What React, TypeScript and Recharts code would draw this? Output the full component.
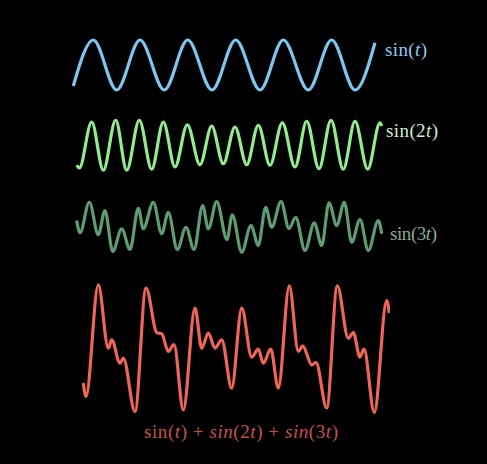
import { Line, LineChart, XAxis, YAxis } from 'recharts'

// t runs 0..32 across the plot width (peaks, troughs, wiggles)
const sinT_t = [0.33, 2.33, 4.67, 7.0, 9.43, 11.77, 14.2, 16.57, 19.0, 21.33, 23.83, 26.17, 28.5, 30.5]
const sinT_v = [-0.84, 1, -1, 1, -1, 1, -1, 1, -1, 1, -1, 1, -1, 0.89]

const sin2T_t = [0.67, 0.93, 2.17, 3.33, 4.57, 5.67, 6.93, 8.17, 9.33, 10.5, 11.73, 13.0, 14.17, 15.33, 16.5, 17.67, 18.83, 20.0, 21.23, 22.5, 23.67, 24.9, 26.1, 27.33, 28.5, 29.77, 31.0, 31.17]
const sin2T_v = [-0.81, -0.92, 0.92, -1.01, 0.99, -1.01, 0.99, -0.97, 0.92, -0.88, 0.81, -0.79, 0.76, -0.75, 0.72, -0.79, 0.79, -0.81, 0.89, -0.88, 0.95, -0.95, 0.99, -0.97, 0.95, -0.97, 0.89, 0.76]

const sin3T_t = [0.67, 1.0, 1.93, 2.83, 3.5, 4.27, 5.17, 6.0, 6.83, 7.33, 8.33, 9.17, 9.83, 10.73, 11.6, 12.4, 13.27, 13.83, 14.67, 15.7, 16.23, 17.17, 18.1, 18.83, 19.57, 20.17, 21.1, 21.9, 22.57, 23.5, 24.43, 25.17, 25.9, 26.67, 27.43, 28.17, 29.0, 29.83, 30.83, 31.17]
const sin3T_v = [0.26, -0.23, 0.99, -0.31, 0.66, -0.98, -0.07, -0.9, 0.75, -0.07, 0.99, -0.27, 0.59, -0.9, -0.01, -0.9, 0.86, -0.07, 1.02, -0.5, 0.49, -1.01, 0.06, -0.74, 0.79, -0.01, 1.02, -0.06, 0.39, -0.94, 0.17, -0.74, 0.97, 0.06, 0.99, -0.61, 0.3, -0.94, 0.26, -0.27]

const sum_t = [1.33, 1.6, 2.83, 3.83, 4.17, 5.0, 5.33, 6.5, 7.6, 8.7, 9.17, 9.83, 10.4, 11.33, 12.5, 13.17, 13.83, 14.5, 15.17, 16.17, 17.17, 18.17, 18.83, 19.33, 20.07, 20.83, 21.93, 22.83, 23.27, 24.17, 24.6, 25.67, 26.73, 27.83, 28.33, 29.0, 29.4, 30.43, 31.67, 31.93]
const sum_v = [-1.07, -1.49, 2.0, 0.02, 0.28, -0.45, -0.29, -1.96, 1.9, 0.5, 0.47, -0.08, 0.13, -1.91, 1.27, 0.02, 0.49, 0.02, 0.28, -1.23, 1.27, -0.26, -0.01, -0.45, -0.01, -1.23, 1.97, -0.08, 0.09, -0.5, -0.43, -1.85, 1.97, 0.33, 0.51, -0.26, -0.01, -1.99, 1.51, 1.12]

const toRows = (ts: number[], vs: number[]) => ts.map((t, i) => ({ t, v: vs[i] }))

type WaveProps = { data: { t: number; v: number }[]; color: string; top: number; height: number; lim: number }

function Wave({ data, color, top, height, lim }: WaveProps) {
  return (
    <div style={{ position: 'absolute', left: 70, top, width: 320, height }}>
      <LineChart width={320} height={height} data={data} margin={{ top: 0, right: 0, bottom: 0, left: 0 }}>
        <XAxis dataKey="t" type="number" domain={[0, 32]} hide />
        <YAxis type="number" domain={[-lim, lim]} hide />
        <Line type="monotone" dataKey="v" stroke={color} strokeWidth={3.2} dot={false} isAnimationActive={false} />
      </LineChart>
    </div>
  )
}

const serif = '"Liberation Serif", "DejaVu Serif", serif'

export default function App() {
  return (
    <div style={{ position: 'fixed', left: 0, top: 0, width: 487, height: 464, background: '#000', overflow: 'hidden' }}>
      <Wave data={toRows(sinT_t, sinT_v)} color="#7ec6ef" top={35} height={60} lim={1.2} />
      <Wave data={toRows(sin2T_t, sin2T_v)} color="#92ec8e" top={115} height={60} lim={1.2} />
      <Wave data={toRows(sin3T_t, sin3T_v)} color="#5f9c72" top={196.5} height={60} lim={1.2} />
      <Wave data={toRows(sum_t, sum_v)} color="#ee6658" top={272.2} height={153.6} lim={2.4} />
      <svg width={487} height={464} style={{ position: 'absolute', left: 0, top: 0 }} fontFamily={serif}>
        <text x={385} y={49} fontSize={19} fill="#8ec8ec" dominantBaseline="central" textLength={42} lengthAdjust="spacing">
          sin(<tspan fontStyle="italic">t</tspan>)
        </text>
        <text x={386} y={130} fontSize={19} fill="#cdeccb" dominantBaseline="central" textLength={52} lengthAdjust="spacing">
          sin(2<tspan fontStyle="italic">t</tspan>)
        </text>
        <text x={390} y={233} fontSize={19} fill="#8aa892" dominantBaseline="central" textLength={47} lengthAdjust="spacing">
          sin(3<tspan fontStyle="italic">t</tspan>)
        </text>
        <text x={144} y={431} fontSize={19} fill="#c4524a" dominantBaseline="central" textLength={194} lengthAdjust="spacing">
          sin(<tspan fontStyle="italic">t</tspan>) + <tspan fontStyle="italic">sin</tspan>(2<tspan fontStyle="italic">t</tspan>) + <tspan fontStyle="italic">sin</tspan>(3<tspan fontStyle="italic">t</tspan>)
        </text>
      </svg>
    </div>
  )
}
